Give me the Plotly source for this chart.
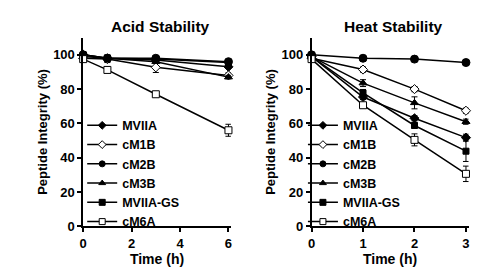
import plotly.graph_objects as go

series = ["MVIIA", "cM1B", "cM2B", "cM3B", "MVIIA-GS", "cM6A"]
symbols = ["diamond", "diamond", "circle", "triangle-up", "square", "square"]
fills = ["black", "white", "black", "black", "black", "white"]
sizes = [7, 7, 8, 7, 6, 7]

acid_time = [0, 1, 3, 6]
acid_vals = {
    "MVIIA":    [100, 98, 97, 93],
    "cM1B":     [98, 97.5, 92.7, 88],
    "cM2B":     [100, 98, 98, 96],
    "cM3B":     [99, 98, 96, 87],
    "MVIIA-GS": [100, 98, 97.5, 95.5],
    "cM6A":     [97.5, 91.2, 77, 56],
}
acid_err = {
    "MVIIA":    [1, 1.5, 1, 1],
    "cM1B":     [1, 2, 3, 1.5],
    "cM2B":     [1, 2, 1, 1],
    "cM3B":     [1, 1.5, 1, 1],
    "MVIIA-GS": [1, 1.5, 1, 1.5],
    "cM6A":     [1, 0.5, 1, 3.5],
}

heat_time = [0, 1, 2, 3]
heat_vals = {
    "MVIIA":    [99, 75.4, 63, 51.7],
    "cM1B":     [98, 91.4, 80, 67.4],
    "cM2B":     [100, 98, 97.5, 95.5],
    "cM3B":     [99, 83.5, 72, 61],
    "MVIIA-GS": [99, 77.8, 58.8, 43.8],
    "cM6A":     [97.5, 70.6, 50.4, 30.6],
}
heat_err = {
    "MVIIA":    [1, 1.5, 1.5, 2],
    "cM1B":     [1, 1.5, 1.5, 1.5],
    "cM2B":     [1, 1.5, 1.5, 1.5],
    "cM3B":     [1, 2, 3.5, 1.5],
    "MVIIA-GS": [1, 2, 1.5, 6],
    "cM6A":     [1, 1.5, 3.5, 4.5],
}

acid_ticks_x = [0, 2, 4, 6]
heat_ticks_x = [0, 1, 2, 3]
ticks_y = [0, 20, 40, 60, 80, 100]

FONT = "Liberation Sans, Arial, sans-serif"
W, H = 493, 278

fig = go.Figure()
for i, name in enumerate(series):
    for (t, vals, errs, xa, ya, lg) in [
        (acid_time, acid_vals, acid_err, "x", "y", "legend"),
        (heat_time, heat_vals, heat_err, "x2", "y2", "legend2"),
    ]:
        fig.add_trace(go.Scatter(
            x=t, y=vals[name], name=name, xaxis=xa, yaxis=ya, showlegend=False,
            mode="lines+markers",
            line=dict(color="black", width=1.5),
            marker=dict(symbol=symbols[i], size=sizes[i], color=fills[i],
                        line=dict(color="black", width=1)),
            error_y=dict(type="data", array=errs[name], color="black", thickness=1, width=3),
            cliponaxis=False,
        ))
        # legend entry with smaller symbol (no data)
        fig.add_trace(go.Scatter(
            x=[None], y=[None], name=name, xaxis=xa, yaxis=ya, legend=lg,
            mode="lines+markers",
            line=dict(color="black", width=1.5),
            marker=dict(symbol=symbols[i], size=6, color=fills[i],
                        line=dict(color="black", width=1)),
        ))

def px_x(p):
    return p / W

def px_y(p):
    return (H - p) / H

axis_common = dict(showline=True, linecolor="black", linewidth=1.5, ticks="outside",
                   ticklen=4, tickwidth=1.5, tickcolor="black", showgrid=False, zeroline=False,
                   tickfont=dict(family=FONT, size=13, color="black", weight="bold"))

xtitle = dict(text="Time (h)", font=dict(family=FONT, size=14, color="black", weight="bold"), standoff=4)
ytitle = dict(text="Peptide Integrity (%)", font=dict(family=FONT, size=13, color="black", weight="bold"), standoff=3)
legfont = dict(family=FONT, size=12.5, color="black", weight="bold")
titlefont = dict(family=FONT, size=15.5, color="black", weight="bold")

ydom = [px_y(233), px_y(38.8)]
fig.update_layout(
    width=W, height=H, margin=dict(l=0, r=0, t=0, b=0),
    paper_bgcolor="white", plot_bgcolor="white",
    font=dict(family=FONT, color="black"),
    xaxis=dict(domain=[px_x(80), px_x(229.2)], range=[0, 6.1], tickvals=acid_ticks_x,
               anchor="y", title=xtitle, **axis_common),
    yaxis=dict(domain=ydom, range=[0, 110], tickvals=ticks_y,
               anchor="x", title=ytitle, **axis_common),
    xaxis2=dict(domain=[px_x(310.7), px_x(469.3)], range=[0, 3.05], tickvals=heat_ticks_x,
                anchor="y2", title=xtitle, **axis_common),
    yaxis2=dict(domain=ydom, range=[0, 110], tickvals=ticks_y,
                anchor="x2", title=ytitle, **axis_common),
    legend=dict(x=px_x(79), y=px_y(114), xanchor="left", yanchor="top", bgcolor="rgba(0,0,0,0)",
                font=legfont, itemwidth=30, tracegroupgap=0),
    legend2=dict(x=px_x(302), y=px_y(114), xanchor="left", yanchor="top", bgcolor="rgba(0,0,0,0)",
                 font=legfont, itemwidth=30, tracegroupgap=0),
    annotations=[
        dict(text="Acid Stability", x=px_x(158), y=px_y(27), xref="paper", yref="paper",
             xanchor="center", yanchor="middle", showarrow=False, font=titlefont),
        dict(text="Heat Stability", x=px_x(393), y=px_y(27), xref="paper", yref="paper",
             xanchor="center", yanchor="middle", showarrow=False, font=titlefont),
    ],
)

fig.write_html("out.html", config={"displayModeBar": False},
               post_script="document.body.style.margin='0px';")
